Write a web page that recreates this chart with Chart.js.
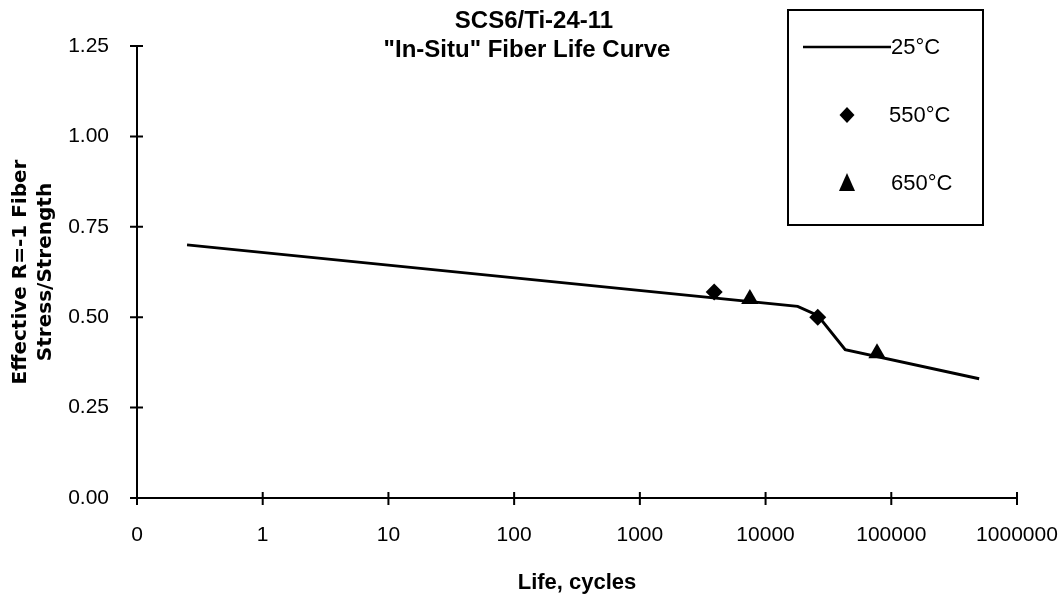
<!DOCTYPE html>
<html lang="en">
<head>
  <meta charset="UTF-8">
  <title>SCS6/Ti-24-11 In-Situ Fiber Life Curve</title>
  <script src="https://cdn.jsdelivr.net/npm/chart.js"></script>
  <style>
    body {
      margin: 0;
      padding: 0;
      background-color: white;
    }
    #chartContainer {
      width: 1058px;
      height: 603px;
    }
  </style>
</head>
<body>

  <div id="chartContainer">
    <canvas id="lifeChart" width="1058" height="603"></canvas>
  </div>

  <script>
    // data
    const titleLines = ['SCS6/Ti-24-11', '"In-Situ" Fiber Life Curve'];
    const seriesLabels = ['25°C', '550°C', '650°C'];

    const life25 = [0.25, 18000, 26000, 43000, 500000];
    const ratio25 = [0.70, 0.53, 0.505, 0.41, 0.33];

    const life550 = [3900, 26000];
    const ratio550 = [0.57, 0.50];

    const life650 = [7500, 77000];
    const ratio650 = [0.55, 0.40];

    const xTickValues = [0.1, 1, 10, 100, 1000, 10000, 100000, 1000000];
    const xTickLabels = ['0', '1', '10', '100', '1000', '10000', '100000', '1000000'];
    const yTicks = [0, 0.25, 0.5, 0.75, 1.0, 1.25];

    const toPoints = (xs, ys) => xs.map((x, i) => ({x: x, y: ys[i]}));

    // cross tick marks on both axes
    const crossTicks = {
      id: 'crossTicks',
      afterDraw(chart) {
        const ctx = chart.ctx;
        const xs = chart.scales.x;
        const ys = chart.scales.y;
        ctx.save();
        ctx.strokeStyle = '#000';
        ctx.lineWidth = 2;
        ctx.beginPath();
        xs.ticks.forEach(t => {
          const px = xs.getPixelForValue(t.value);
          ctx.moveTo(px, xs.top - 6);
          ctx.lineTo(px, xs.top + 7);
        });
        ys.ticks.forEach(t => {
          const py = ys.getPixelForValue(t.value);
          ctx.moveTo(ys.right - 7, py);
          ctx.lineTo(ys.right + 6, py);
        });
        ctx.stroke();
        ctx.restore();
      }
    };

    // title drawn over the plot area, like the original
    const overlayTitle = {
      id: 'overlayTitle',
      afterDraw(chart) {
        const ctx = chart.ctx;
        ctx.save();
        ctx.fillStyle = '#000';
        ctx.font = 'bold 24px "Liberation Sans", Arial, sans-serif';
        ctx.textAlign = 'center';
        ctx.textBaseline = 'middle';
        ctx.fillText(titleLines[0], 534, 21);
        ctx.fillText(titleLines[1], 527, 50);
        ctx.restore();
      }
    };

    // boxed legend in the top right corner
    const boxLegend = {
      id: 'boxLegend',
      afterDraw(chart) {
        const ctx = chart.ctx;
        const ds = chart.data.datasets;
        ctx.save();
        ctx.fillStyle = '#fff';
        ctx.fillRect(788, 10, 195, 215);
        ctx.strokeStyle = '#000';
        ctx.lineWidth = 2;
        ctx.strokeRect(788, 10, 195, 215);

        ctx.font = '22px "Liberation Sans", Arial, sans-serif';
        ctx.textBaseline = 'middle';
        ctx.textAlign = 'left';
        ctx.fillStyle = '#000';

        // line sample
        ctx.lineWidth = 2.5;
        ctx.beginPath();
        ctx.moveTo(803, 47);
        ctx.lineTo(891, 47);
        ctx.stroke();
        ctx.fillText(ds[0].label, 891, 48);

        // diamond
        ctx.beginPath();
        ctx.moveTo(847, 107);
        ctx.lineTo(854.5, 115);
        ctx.lineTo(847, 123);
        ctx.lineTo(839.5, 115);
        ctx.closePath();
        ctx.fill();
        ctx.fillText(ds[1].label, 889, 116);

        // triangle
        ctx.beginPath();
        ctx.moveTo(847, 173);
        ctx.lineTo(855, 191);
        ctx.lineTo(839, 191);
        ctx.closePath();
        ctx.fill();
        ctx.fillText(ds[2].label, 891, 184);
        ctx.restore();
      }
    };

    const ctx = document.getElementById('lifeChart').getContext('2d');
    const lifeChart = new Chart(ctx, {
      type: 'scatter',
      data: {
        datasets: [
          {
            label: seriesLabels[0],
            data: toPoints(life25, ratio25),
            showLine: true,
            borderColor: '#000',
            borderWidth: 3,
            pointRadius: 0,
            tension: 0
          },
          {
            label: seriesLabels[1],
            data: toPoints(life550, ratio550),
            pointStyle: 'rectRot',
            pointRadius: 8.5,
            backgroundColor: '#000',
            borderColor: '#000',
            borderWidth: 0
          },
          {
            label: seriesLabels[2],
            data: toPoints(life650, ratio650),
            pointStyle: 'triangle',
            pointRadius: 10,
            backgroundColor: '#000',
            borderColor: '#000',
            borderWidth: 0
          }
        ]
      },
      options: {
        responsive: false,
        animation: false,
        layout: {
          padding: {top: 46, right: 41, left: 0, bottom: 0}
        },
        plugins: {
          legend: {display: false},
          title: {display: false},
          tooltip: {enabled: false}
        },
        scales: {
          x: {
            type: 'logarithmic',
            min: 0.1,
            max: 1000000,
            afterBuildTicks: scale => {
              scale.ticks = xTickValues.map(v => ({value: v}));
            },
            afterFit: scale => {
              scale.height = 105;
              scale.paddingLeft = 0;
              scale.paddingRight = 0;
            },
            ticks: {
              autoSkip: false,
              maxRotation: 0,
              padding: 25,
              color: '#000',
              font: {size: 21, family: '"Liberation Sans", Arial, sans-serif'},
              callback: (value, index) => xTickLabels[index]
            },
            grid: {display: false, drawTicks: false},
            border: {display: true, color: '#000', width: 2},
            title: {
              display: true,
              text: 'Life, cycles',
              color: '#000',
              padding: {top: 0, bottom: 7},
              font: {size: 22, weight: 'bold', family: '"Liberation Sans", Arial, sans-serif'}
            }
          },
          y: {
            min: 0,
            max: 1.25,
            afterBuildTicks: scale => {
              scale.ticks = yTicks.map(v => ({value: v}));
            },
            afterFit: scale => {
              scale.width = 137;
            },
            ticks: {
              padding: 28,
              color: '#000',
              font: {size: 21, family: '"Liberation Sans", Arial, sans-serif'},
              callback: value => value.toFixed(2)
            },
            grid: {display: false, drawTicks: false},
            border: {display: true, color: '#000', width: 2},
            title: {
              display: true,
              text: ['Effective R=-1 Fiber', 'Stress/Strength'],
              color: '#000',
              padding: {top: 8, bottom: 0},
              font: {size: 20, weight: 'bold', lineHeight: '25px', family: '"DejaVu Sans", sans-serif'}
            }
          }
        }
      },
      plugins: [crossTicks, overlayTitle, boxLegend]
    });
  </script>
</body>
</html>
